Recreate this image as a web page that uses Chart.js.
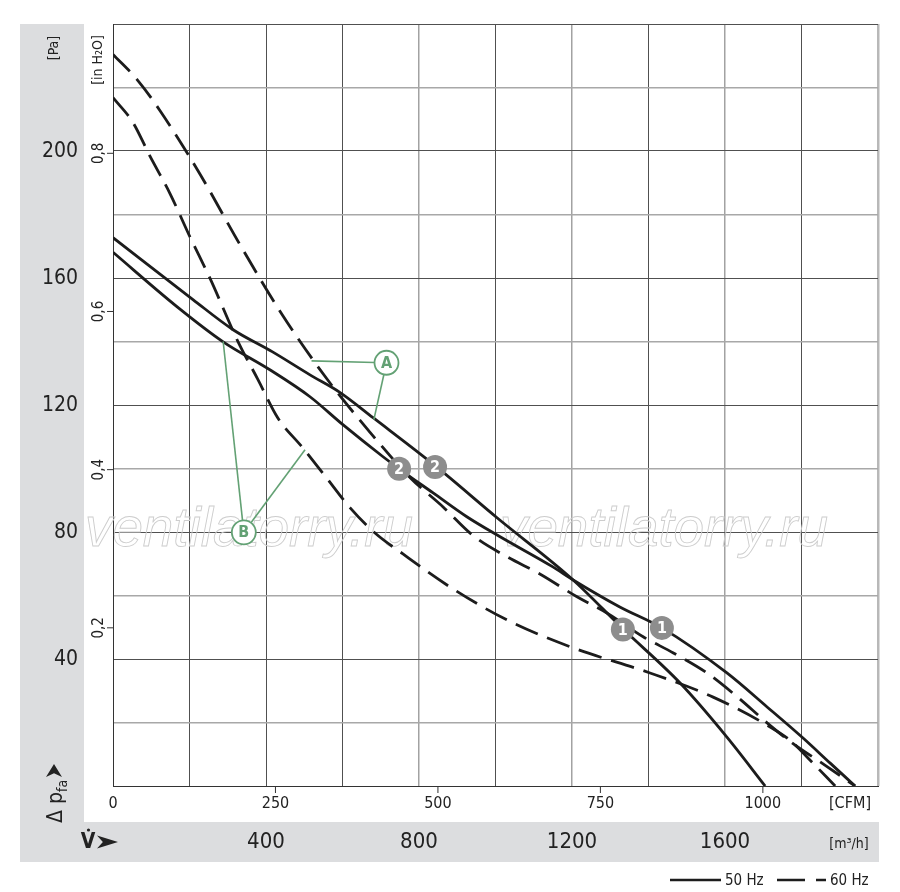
<!DOCTYPE html>
<html lang="ru">
<head>
<meta charset="UTF-8">
<title>Характеристика вентилятора</title>
<script src="https://cdn.jsdelivr.net/npm/chart.js"></script>
<style>
    html, body { margin: 0; padding: 0; background: #fff; }
    #wrap { width: 900px; height: 892px; }
</style>
</head>
<body>
<div id="wrap"><canvas id="fanChart" width="900" height="892"></canvas></div>
<script>
    // расход [m3/h] и давление [Pa]
    const a50Flow = [0, 209, 314, 416, 515, 593, 680, 842, 1004, 1203, 1333, 1482, 1605, 1705];
    const a50Pa   = [172.7, 153.2, 143.7, 136.8, 129.5, 124.0, 116.0, 100.9, 84.5, 64.9, 49.5, 32.5, 15.4, 0];

    const b50Flow = [0, 167, 288, 410, 515, 601, 706, 748, 837, 925, 1012, 1150, 1203, 1325, 1435, 1605, 1710, 1804, 1875, 1940];
    const b50Pa   = [168.1, 151.0, 139.9, 131.1, 122.6, 113.8, 103.7, 99.9, 92.3, 84.8, 78.5, 69.0, 64.9, 56.4, 49.8, 35.6, 24.9, 15.1, 7.2, 0];

    const a60Flow = [0, 63, 123, 228, 332, 442, 560, 672, 777, 863, 942, 1030, 1116, 1213, 1291, 1386, 1465, 1553, 1632, 1710, 1775, 1861, 1940];
    const a60Pa   = [230.4, 222.5, 212.7, 192.6, 170.5, 148.5, 128.1, 111.4, 97.1, 87.9, 78.8, 72.2, 66.8, 59.6, 54.5, 47.0, 41.9, 35.6, 28.1, 19.9, 13.6, 6.6, 0];

    const b60Flow = [0, 52, 97, 149, 201, 254, 327, 379, 431, 494, 554, 620, 685, 758, 881, 1030, 1203, 1404, 1569, 1718, 1775, 1822, 1888];
    const b60Pa   = [216.8, 209.0, 198.3, 186.6, 173.0, 159.8, 139.9, 128.0, 115.9, 106.8, 97.7, 87.6, 79.7, 73.1, 62.7, 52.3, 43.5, 35.6, 28.0, 18.6, 13.9, 8.2, 0];

    // рабочие точки 1 и 2
    const markFlow = [748, 842, 1333, 1435];
    const markPa   = [99.9, 100.5, 49.3, 49.8];
    const markText = ['2', '2', '1', '1'];

    // подписи осей
    const paTicks  = [40, 80, 120, 160, 200];
    const inTicks  = [0.2, 0.4, 0.6, 0.8];
    const cfmTicks = [0, 250, 500, 750, 1000];
    const m3hTicks = [400, 800, 1200, 1600];

    // выноски A / B (в единицах графика)
    const tags = [
        { name: 'A', at: [715, 133.3], ends: [[519, 133.9], [682, 115.4]] },
        { name: 'B', at: [342, 79.9], ends: [[288, 140.0], [502, 105.9]] }
    ];

    const CFM = 1.699;     // m3/h
    const INH2O = 249.09;  // Pa
    const F = '"Liberation Sans Narrow", "DejaVu Sans Condensed", Arial, sans-serif';
    const GREEN = '#63a174';

    function pts(xs, ys) {
        return xs.map((x, i) => ({ x: x, y: ys[i] }));
    }

    const lineStyle = {
        borderColor: '#1c1c1c',
        borderWidth: 2.8,
        pointRadius: 0,
        fill: false,
        cubicInterpolationMode: 'monotone',
        order: 2
    };

    function arrowHead(ctx, x, y, ang, len, half) {
        ctx.save();
        ctx.translate(x, y);
        ctx.rotate(ang);
        ctx.beginPath();
        ctx.moveTo(len, 0);
        ctx.lineTo(0, -half);
        ctx.lineTo(len * 0.28, 0);
        ctx.lineTo(0, half);
        ctx.closePath();
        ctx.fill();
        ctx.restore();
    }

    const decor = {
        id: 'decor',
        beforeDraw(chart) {
            const ctx = chart.ctx;
            ctx.save();
            ctx.fillStyle = '#fff';
            ctx.fillRect(0, 0, 900, 892);
            ctx.fillStyle = '#dcdddf';
            ctx.fillRect(20, 24, 64, 838);
            ctx.fillRect(84, 822, 795, 40);
            ctx.restore();
        },
        beforeDatasetsDraw(chart) {
            // водяной знак
            const ctx = chart.ctx;
            ctx.save();
            ctx.font = 'italic 50px "Liberation Sans", Arial, sans-serif';
            const w = ctx.measureText('ventilatorry.ru').width;
            const size = 50 * 328 / w;
            ctx.font = 'italic ' + size.toFixed(1) + 'px "Liberation Sans", Arial, sans-serif';
            ctx.strokeStyle = '#cdcdcd';
            ctx.lineWidth = 0.9;
            ctx.textBaseline = 'alphabetic';
            ctx.strokeText('ventilatorry.ru', 85, 546);
            ctx.strokeText('ventilatorry.ru', 500, 546);
            ctx.restore();
        },
        afterDatasetsDraw(chart) {
            const ctx = chart.ctx;
            const xs = chart.scales.x, ys = chart.scales.y;
            const area = chart.chartArea;
            ctx.save();

            // выноски
            tags.forEach(t => {
                const cx = xs.getPixelForValue(t.at[0]);
                const cy = ys.getPixelForValue(t.at[1]);
                const r = 12;
                ctx.strokeStyle = GREEN;
                ctx.lineWidth = 1.6;
                t.ends.forEach(e => {
                    const ex = xs.getPixelForValue(e[0]);
                    const ey = ys.getPixelForValue(e[1]);
                    const d = Math.hypot(ex - cx, ey - cy);
                    ctx.beginPath();
                    ctx.moveTo(cx + (ex - cx) * r / d, cy + (ey - cy) * r / d);
                    ctx.lineTo(ex, ey);
                    ctx.stroke();
                });
                ctx.beginPath();
                ctx.arc(cx, cy, r, 0, Math.PI * 2);
                ctx.fillStyle = '#fff';
                ctx.fill();
                ctx.lineWidth = 1.8;
                ctx.stroke();
                ctx.fillStyle = GREEN;
                ctx.font = 'bold 16px ' + F;
                ctx.textAlign = 'center';
                ctx.textBaseline = 'middle';
                ctx.fillText(t.name, cx, cy + 1);
            });

            // номера рабочих точек
            ctx.fillStyle = '#fff';
            ctx.font = 'bold 16px ' + F;
            ctx.textAlign = 'center';
            ctx.textBaseline = 'middle';
            markFlow.forEach((f, i) => {
                ctx.fillText(markText[i], xs.getPixelForValue(f), ys.getPixelForValue(markPa[i]) + 1);
            });

            ctx.fillStyle = '#222';
            ctx.strokeStyle = '#333';
            ctx.lineWidth = 1;

            // Pa
            ctx.font = '21px ' + F;
            ctx.textAlign = 'right';
            paTicks.forEach(v => ctx.fillText(String(v), 78, ys.getPixelForValue(v) + 1));

            // in H2O
            ctx.font = '15px ' + F;
            ctx.textAlign = 'center';
            inTicks.forEach(v => {
                const y = ys.getPixelForValue(v * INH2O);
                ctx.beginPath();
                ctx.moveTo(area.left - 6, y);
                ctx.lineTo(area.left, y);
                ctx.stroke();
                ctx.save();
                ctx.translate(99, y);
                ctx.rotate(-Math.PI / 2);
                ctx.fillText(v.toFixed(1).replace('.', ','), 0, 0);
                ctx.restore();
            });

            ctx.font = '14px ' + F;
            ctx.save();
            ctx.translate(54, 48);
            ctx.rotate(-Math.PI / 2);
            ctx.fillText('[Pa]', 0, 0);
            ctx.restore();
            ctx.save();
            ctx.translate(98, 60);
            ctx.rotate(-Math.PI / 2);
            ctx.fillText('[in H₂O]', 0, 0);
            ctx.restore();

            // CFM
            ctx.font = '16px ' + F;
            ctx.textBaseline = 'middle';
            cfmTicks.forEach(c => {
                const x = xs.getPixelForValue(c * CFM);
                if (c > 0) {
                    ctx.beginPath();
                    ctx.moveTo(x, area.bottom);
                    ctx.lineTo(x, area.bottom + 7);
                    ctx.stroke();
                }
                ctx.fillText(String(c), x, 804);
            });
            ctx.fillText('[CFM]', 850, 804);

            // m3/h
            ctx.font = '22px ' + F;
            m3hTicks.forEach(v => ctx.fillText(String(v), xs.getPixelForValue(v), 842));
            ctx.font = '14px ' + F;
            ctx.fillText('[m³/h]', 849, 844);

            // V
            ctx.font = 'bold 21px ' + F;
            ctx.fillText('V', 88, 843);
            ctx.beginPath();
            ctx.arc(88.5, 830, 1.6, 0, Math.PI * 2);
            ctx.fill();
            arrowHead(ctx, 97, 842, 0, 21, 6.5);

            // delta p_fa
            ctx.save();
            ctx.translate(62, 823);
            ctx.rotate(-Math.PI / 2);
            ctx.textAlign = 'left';
            ctx.textBaseline = 'alphabetic';
            ctx.font = '21px ' + F;
            ctx.fillText('Δ', 0, 0);
            ctx.fillText('p', 19, 0);
            ctx.font = '14px ' + F;
            ctx.fillText('fa', 31, 5);
            arrowHead(ctx, 46, -8, 0, 13, 8);
            ctx.restore();

            // легенда
            ctx.strokeStyle = '#1c1c1c';
            ctx.lineWidth = 2.6;
            ctx.beginPath();
            ctx.moveTo(670, 880);
            ctx.lineTo(721, 880);
            ctx.moveTo(777, 880);
            ctx.lineTo(805, 880);
            ctx.moveTo(816, 880);
            ctx.lineTo(826, 880);
            ctx.stroke();
            ctx.font = '15px ' + F;
            ctx.textAlign = 'left';
            ctx.textBaseline = 'middle';
            ctx.fillText('50 Hz', 725, 881);
            ctx.fillText('60 Hz', 830, 881);

            ctx.restore();
        }
    };

    const ctx = document.getElementById('fanChart').getContext('2d');
    const fanChart = new Chart(ctx, {
        type: 'line',
        data: {
            datasets: [
                Object.assign({ label: 'A 50 Hz', data: pts(a50Flow, a50Pa) }, lineStyle),
                Object.assign({ label: 'B 50 Hz', data: pts(b50Flow, b50Pa) }, lineStyle),
                Object.assign({ label: 'A 60 Hz', data: pts(a60Flow, a60Pa), borderDash: [24, 10] }, lineStyle),
                Object.assign({ label: 'B 60 Hz', data: pts(b60Flow, b60Pa), borderDash: [24, 10] }, lineStyle),
                {
                    type: 'scatter',
                    label: 'points',
                    data: pts(markFlow, markPa),
                    pointRadius: 12,
                    pointHoverRadius: 12,
                    pointBackgroundColor: '#8d8d8d',
                    pointBorderWidth: 0,
                    order: 0
                }
            ]
        },
        options: {
            responsive: false,
            animation: false,
            layout: { padding: { left: 113, top: 24, right: 22, bottom: 106 } },
            plugins: { legend: { display: false }, tooltip: { enabled: false } },
            scales: {
                x: {
                    type: 'linear',
                    min: 0,
                    max: 2000,
                    ticks: { display: false, stepSize: 200 },
                    grid: {
                        drawTicks: false,
                        color: c => (c.tick && c.tick.value === 2000) ? '#b8b8b8'
                            : (c.tick && c.tick.value >= 800 && c.tick.value % 400 === 0) ? '#a2a2a2' : '#505050',
                        lineWidth: c => (c.tick && c.tick.value === 2000) ? 2.5
                            : (c.tick && c.tick.value >= 800 && c.tick.value % 400 === 0) ? 1.5 : 1
                    },
                    border: { color: '#333', width: 1 },
                    afterFit: s => { s.height = 0; }
                },
                y: {
                    type: 'linear',
                    min: 0,
                    max: 240,
                    ticks: { display: false, stepSize: 20 },
                    grid: {
                        drawTicks: false,
                        color: c => (c.tick && c.tick.value % 40 === 0) ? '#505050' : '#a8a8a8',
                        lineWidth: c => (c.tick && c.tick.value % 40 === 0) ? 1 : 1.6
                    },
                    border: { color: '#333', width: 1 },
                    afterFit: s => { s.width = 0; }
                }
            }
        },
        plugins: [decor]
    });
</script>
</body>
</html>
